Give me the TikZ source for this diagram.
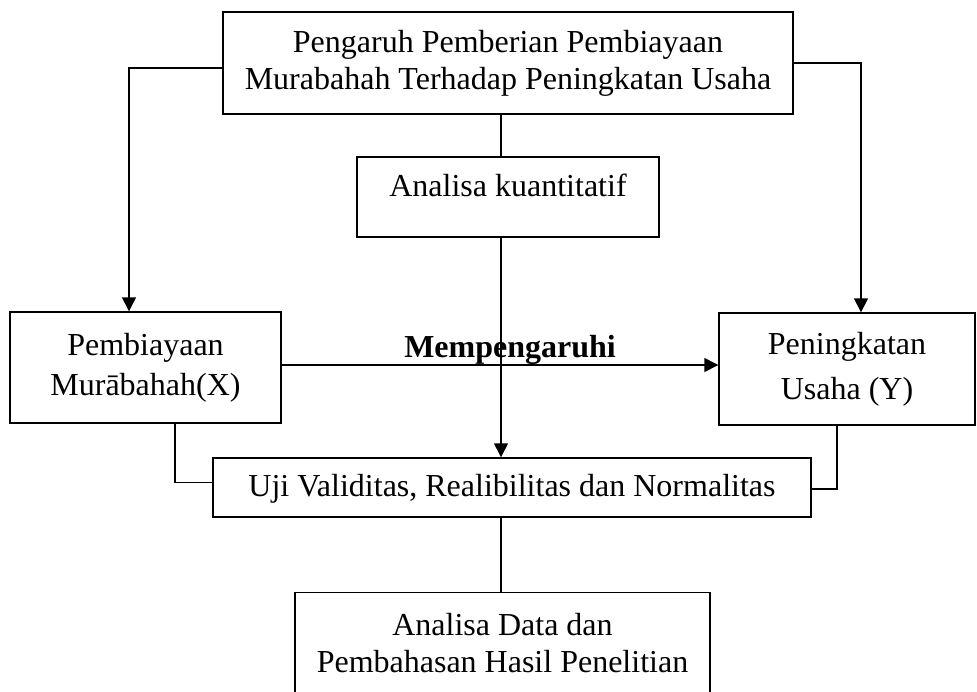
\documentclass[tikz,border=0pt]{standalone}
\usepackage{fontspec}
\setmainfont{Liberation Serif}
\usetikzlibrary{arrows.meta}
\tikzset{
  box/.style={draw, line width=1.4pt, rectangle, align=center, inner sep=0pt},
  onebox/.style={draw, line width=1.4pt, rectangle, inner sep=0pt},
  link/.style={line width=1.4pt},
  arr/.style={link, -{Triangle[length=14pt,width=14pt]}},
  every node/.style={font={\fontsize{32}{37}\selectfont}},
}
\begin{document}
\begin{tikzpicture}[x=1pt,y=-1pt]
\clip (0,0) rectangle (977,691);
\fill[white] (0,0) rectangle (977,691);
\node[box, minimum width=570pt, minimum height=102pt] (top) at (508,63)
  {Pengaruh Pemberian Pembiayaan\\Murabahah Terhadap Peningkatan Usaha};
\node[onebox, minimum width=302pt, minimum height=80pt, text height=22pt, text depth=24pt] (ak) at (508,197)
  {Analisa kuantitatif};
\node[box, minimum width=271pt, minimum height=111pt, font={\fontsize{32}{40}\selectfont}] (pemb) at (145.5,367.5)
  {Pembiayaan\\Murābahah(X)};
\node[box, minimum width=256pt, minimum height=112pt, font={\fontsize{32}{45}\selectfont}] (pen) at (847,369)
  {Peningkatan\\Usaha (Y)};
\node[onebox, minimum width=598pt, minimum height=59pt, text height=22pt, text depth=4pt] (uji) at (512,487.5)
  {Uji Validitas, Realibilitas dan Normalitas};
\node[box, anchor=north, minimum width=415pt, minimum height=100pt] (ad) at (502.5,592)
  {Analisa Data dan\\Pembahasan Hasil Penelitian};
\coordinate (vx) at (501,0);
% connectors
\draw[arr] ([yshift=-5pt]top.west) -| ([xshift=-16.5pt]pemb.north);
\draw[arr] (top.east) -| ([xshift=14pt]pen.north);
\draw[link] (top.south -| vx) -- (ak.north -| vx);
\draw[arr] (ak.south -| vx) -- (uji.north -| vx);
\draw[link] (uji.south -| vx) -- (ad.north -| vx);
\draw[arr] ([yshift=2.5pt]pemb.east) -- ([yshift=2.5pt]pemb.east -| pen.west)
  node[pos=0.523, anchor=south, inner sep=0pt, font={\fontsize{32}{37}\selectfont\bfseries}] (lbl) {Mempengaruhi};
\draw[link] ([xshift=29.5pt]pemb.south) |- ([yshift=5pt]uji.west);
\draw[link] ([xshift=-10pt]pen.south) |- ([yshift=-1.5pt]uji.east);
\end{tikzpicture}
\end{document}
